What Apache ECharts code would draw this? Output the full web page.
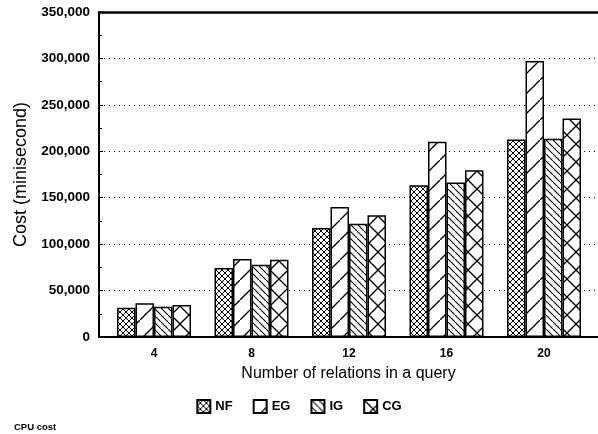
<!DOCTYPE html>
<html>
<head>
<meta charset="utf-8">
<style>
html, body { margin: 0; padding: 0; background: #fff; }
#main { width: 598px; height: 434px; }
</style>
<script src="https://cdn.jsdelivr.net/npm/echarts@6/dist/echarts.min.js"></script>
</head>
<body>
<div id="main"></div>
<script>
// data
var relations = [4, 8, 12, 16, 20];
var nfCost = [31600, 74200, 117400, 163400, 212700];
var egCost = [36400, 83900, 140100, 210300, 297300];
var igCost = [32700, 77700, 122000, 166300, 213500];
var cgCost = [34500, 83100, 131000, 179600, 235400];

var FONT = '"Liberation Sans", Arial, sans-serif';

/* hatch pattern tiles */
function makePattern(size, draw) {
	var c = document.createElement('canvas');
	c.width = size;
	c.height = size;
	var ctx = c.getContext('2d');
	ctx.fillStyle = '#fff';
	ctx.fillRect(0, 0, size, size);
	ctx.strokeStyle = '#000';
	draw(ctx, size);
	return { image: c, repeat: 'repeat' };
}
function slash(ctx, s) {
	ctx.beginPath();
	ctx.moveTo(-1, s + 1); ctx.lineTo(s + 1, -1);
	ctx.stroke();
}
function backslash(ctx, s) {
	ctx.beginPath();
	ctx.moveTo(-1, -1); ctx.lineTo(s + 1, s + 1);
	ctx.stroke();
}
var nfFill = makePattern(6, function (ctx, s) { ctx.lineWidth = 1; slash(ctx, s); backslash(ctx, s); });
var egFill = makePattern(20, function (ctx, s) { ctx.lineWidth = 1.3; slash(ctx, s); });
var igFill = makePattern(7, function (ctx, s) { ctx.lineWidth = 1.1; backslash(ctx, s); });
var cgFill = makePattern(18, function (ctx, s) { ctx.lineWidth = 1.3; slash(ctx, s); backslash(ctx, s); });

function pairs(vals) {
	var out = [];
	for (var i = 0; i < relations.length; i++) {
		out.push([relations[i], vals[i]]);
	}
	return out;
}

function barSeries(name, vals, fill) {
	return {
		name: name,
		type: 'bar',
		barWidth: 18.5,
		barGap: '0%',
		data: pairs(vals),
		itemStyle: { color: fill, borderColor: '#000', borderWidth: 1.5 }
	};
}

var myChart = echarts.init(document.getElementById('main'));
var option = {
	animation: false,
	backgroundColor: '#fff',
	title: {
		text: 'CPU cost',
		left: 9,
		top: 417,
		textStyle: { fontFamily: FONT, fontSize: 9.5, fontWeight: 'bold', color: '#000' }
	},
	legend: {
		bottom: 15,
		left: 'center',
		icon: 'rect',
		itemWidth: 13,
		itemHeight: 13,
		itemGap: 20,
		textStyle: { fontFamily: FONT, fontSize: 13, fontWeight: 'bold', color: '#000' },
		data: ['NF', 'EG', 'IG', 'CG']
	},
	grid: { left: 99, right: 0, top: 12, bottom: 97, containLabel: false },
	xAxis: [{
		type: 'value',
		min: 1.7436,
		max: 22.215,
		name: 'Number of relations in a query',
		nameLocation: 'middle',
		nameGap: 29,
		nameTextStyle: { fontFamily: FONT, fontSize: 16, color: '#000' },
		axisLine: { show: true, lineStyle: { color: '#000', width: 2 } },
		axisTick: { show: false },
		splitLine: { show: false },
		axisLabel: {
			customValues: relations,
			margin: 11,
			fontFamily: FONT, fontSize: 12, fontWeight: 'bold', color: '#000'
		}
	}, {
		type: 'value',
		position: 'top',
		min: 1.7436,
		max: 22.215,
		axisLine: { show: true, lineStyle: { color: '#000', width: 2.5 } },
		axisTick: { show: false },
		axisLabel: { show: false },
		splitLine: { show: false }
	}],
	yAxis: {
		type: 'value',
		min: 0,
		max: 350000,
		interval: 50000,
		name: 'Cost (minisecond)',
		nameLocation: 'middle',
		nameGap: 66,
		nameTextStyle: { fontFamily: FONT, fontSize: 18, color: '#000' },
		axisLine: { show: true, lineStyle: { color: '#000', width: 2 } },
		axisTick: { show: true, inside: true, length: 4, lineStyle: { color: '#000' } },
		minorTick: { show: true, splitNumber: 2, length: 3, lineStyle: { color: '#000' } },
		axisLabel: {
			margin: 9,
			fontFamily: FONT, fontSize: 13.5, fontWeight: 'bold', color: '#000',
			formatter: function (v) { return v.toLocaleString('en-US'); }
		},
		splitLine: { show: true, lineStyle: { color: '#000', width: 1, type: [1, 4] } }
	},
	series: [
		barSeries('NF', nfCost, nfFill),
		barSeries('EG', egCost, egFill),
		barSeries('IG', igCost, igFill),
		barSeries('CG', cgCost, cgFill)
	]
};
myChart.setOption(option);
</script>
</body>
</html>
